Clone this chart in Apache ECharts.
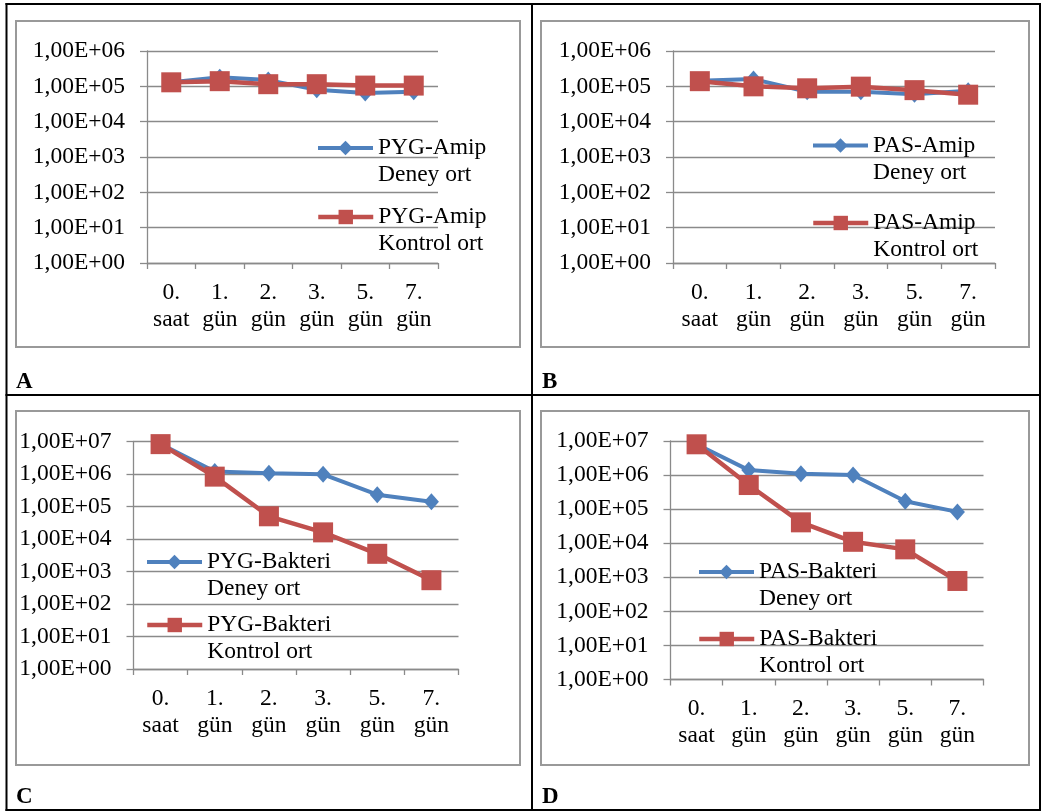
<!DOCTYPE html>
<html>
<head>
<meta charset="utf-8">
<title>Amip ve bakteri sayilari</title>
<script src="https://cdn.jsdelivr.net/npm/echarts@6.0.0/dist/echarts.min.js"></script>
<style>
html, body { margin: 0; padding: 0; background: #fff; }
#chart { width: 1042px; height: 811px; }
</style>
</head>
<body>
<div id="chart"></div>
<script>
// x ekseni
var categories = ['0.\nsaat', '1.\ngün', '2.\ngün', '3.\ngün', '5.\ngün', '7.\ngün'];
// y ekseni etiketleri, 10^0 .. 10^7
var yTickLabels = ['1,00E+00', '1,00E+01', '1,00E+02', '1,00E+03', '1,00E+04', '1,00E+05', '1,00E+06', '1,00E+07'];

// A
var pygAmipDeney   = [1.3e5, 1.8e5, 1.5e5, 8.0e4, 6.5e4, 7.0e4];
var pygAmipKontrol = [1.3e5, 1.4e5, 1.15e5, 1.15e5, 1.05e5, 1.05e5];
// B
var pasAmipDeney   = [1.45e5, 1.6e5, 7.0e4, 7.0e4, 6.0e4, 7.5e4];
var pasAmipKontrol = [1.4e5, 1.0e5, 8.8e4, 9.8e4, 7.8e4, 5.8e4];
// C
var pygBakDeney    = [8.3e6, 1.2e6, 1.05e6, 9.8e5, 2.3e5, 1.4e5];
var pygBakKontrol  = [8.3e6, 8.3e5, 5.0e4, 1.6e4, 3.5e3, 5.4e2];
// D
var pasBakDeney    = [8.0e6, 1.4e6, 1.1e6, 1.0e6, 1.7e5, 8.3e4];
var pasBakKontrol  = [8.0e6, 5.1e5, 4.1e4, 1.1e4, 6.6e3, 7.8e2];

var FONT = '"Liberation Serif", "Times New Roman", serif';
var BLUE = '#4F81BD', RED = '#C0504D', GRID = '#8a8a8a';

// panel yerlesimi
var panels = [
  { letter: 'A', max: 1e6, grid: { left: 147, top: 51, width: 291, height: 212 },
    frame: [16, 21, 504, 326], letterPos: [16, 371],
    names: ['PYG-Amip\nDeney ort', 'PYG-Amip\nKontrol ort'], data: [pygAmipDeney, pygAmipKontrol],
    legendPos: [[316, 146], [316, 215]] },
  { letter: 'B', max: 1e6, grid: { left: 673, top: 51, width: 322, height: 212 },
    frame: [541, 21, 488, 326], letterPos: [542, 371],
    names: ['PAS-Amip\nDeney ort', 'PAS-Amip\nKontrol ort'], data: [pasAmipDeney, pasAmipKontrol],
    legendPos: [[811, 143.5], [811, 221]] },
  { letter: 'C', max: 1e7, grid: { left: 133.5, top: 441.5, width: 325, height: 227.5 },
    frame: [16, 411, 504, 354], letterPos: [16, 786],
    names: ['PYG-Bakteri\nDeney ort', 'PYG-Bakteri\nKontrol ort'], data: [pygBakDeney, pygBakKontrol],
    legendPos: [[145, 560], [145, 623]] },
  { letter: 'D', max: 1e7, grid: { left: 670.5, top: 441, width: 313, height: 238.5 },
    frame: [541, 411, 488, 354], letterPos: [542, 786],
    names: ['PAS-Bakteri\nDeney ort', 'PAS-Bakteri\nKontrol ort'], data: [pasBakDeney, pasBakKontrol],
    legendPos: [[697, 570], [697, 637]] }
];
// lejant kutusunun ustu ile ikon ortasi arasindaki fark
var LEGEND_DY = 38.5;

var grids = [], xAxes = [], yAxes = [], series = [], legends = [], graphics = [];

panels.forEach(function (p, i) {
  grids.push(p.grid);
  xAxes.push({
    type: 'category', gridIndex: i, data: categories, boundaryGap: true,
    axisLine: { lineStyle: { color: GRID, width: 1.3 } },
    axisTick: { show: true, length: 6, lineStyle: { color: GRID, width: 1.3 } },
    axisLabel: { interval: 0, margin: 16, color: '#000', fontFamily: FONT, fontSize: 23.5, lineHeight: 27 },
    splitLine: { show: false }
  });
  yAxes.push({
    type: 'log', logBase: 10, gridIndex: i, min: 1, max: p.max, interval: 1,
    axisLine: { show: true, lineStyle: { color: GRID, width: 1.3 } },
    axisTick: { show: true, length: 7, lineStyle: { color: GRID, width: 1.3 } },
    axisLabel: {
      margin: 22, color: '#000', fontFamily: FONT, fontSize: 23.5,
      formatter: function (v) { return yTickLabels[Math.round(Math.log10(v))]; }
    },
    splitLine: { show: true, lineStyle: { color: GRID, width: 1.3 } }
  });
  p.names.forEach(function (name, j) {
    var col = j ? RED : BLUE;
    var lw = j ? 4.5 : 4;
    series.push({
      type: 'line', name: name, xAxisIndex: i, yAxisIndex: i, data: p.data[j],
      symbol: j ? 'rect' : 'diamond', symbolSize: j ? 20 : [15, 17], showAllSymbol: true,
      lineStyle: { color: col, width: lw },
      itemStyle: { color: col },
      z: 2 + j, animation: false
    });
    legends.push({
      data: [name], left: p.legendPos[j][0], top: p.legendPos[j][1] - LEGEND_DY, padding: 0,
      itemWidth: 55, itemHeight: 18, selectedMode: false,
      lineStyle: { width: lw },
      // bos ilk satir: ikon ilk metin satiriyla hizalansin
      formatter: function (n) { return '\n' + n; },
      textStyle: { color: '#000', fontFamily: FONT, fontSize: 23.5, lineHeight: 27 }
    });
  });
  graphics.push({
    type: 'rect', shape: { x: p.frame[0], y: p.frame[1], width: p.frame[2], height: p.frame[3] },
    style: { fill: 'none', stroke: '#999', lineWidth: 2 }, z: -1
  });
  graphics.push({
    type: 'text', left: p.letterPos[0], top: p.letterPos[1],
    style: { text: p.letter, font: 'bold 23px ' + FONT, fill: '#000' }
  });
});

// tablo cizgileri
[[6.5, 3, 6.5, 811], [532, 3, 532, 811], [1040, 3, 1040, 811],
 [5.5, 4, 1041, 4], [5.5, 395, 1041, 395], [5.5, 810, 1041, 810]].forEach(function (l) {
  graphics.push({ type: 'line', shape: { x1: l[0], y1: l[1], x2: l[2], y2: l[3] },
    style: { stroke: '#000', lineWidth: 2 } });
});

var myChart = echarts.init(document.getElementById('chart'));
myChart.setOption({
  backgroundColor: '#fff',
  animation: false,
  grid: grids,
  xAxis: xAxes,
  yAxis: yAxes,
  legend: legends,
  series: series,
  graphic: { elements: graphics }
});
</script>
</body>
</html>
